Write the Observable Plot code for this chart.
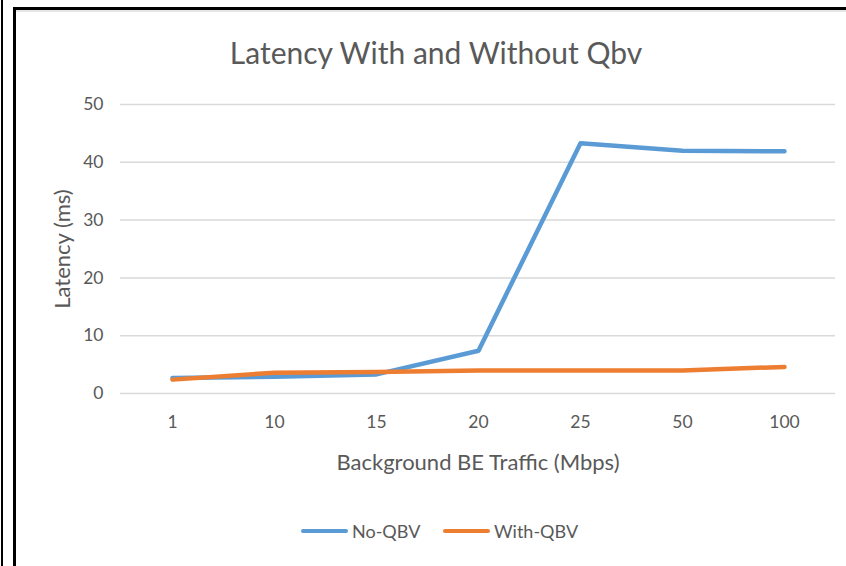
<!DOCTYPE html>
<html>
<head>
<meta charset="utf-8">
<script src="https://cdn.jsdelivr.net/npm/d3@7"></script>
<script src="https://cdn.jsdelivr.net/npm/@observablehq/plot@0.6"></script>
<style>
  html, body { margin: 0; padding: 0; background: #fff; }
  #wrap { position: relative; width: 846px; height: 566px; overflow: hidden; font-family: Lato, "Open Sans", sans-serif; color: #595959; }
  .bl { position: absolute; background: #000; }
  #title { position: absolute; left: 0; width: 872px; top: 34px; text-align: center; font-size: 30px; color: #595959; }
  #chart { position: absolute; left: 0; top: 85px; }
  #legend { position: absolute; top: 519px; left: 0; width: 846px; font-size: 18px; color: #595959; }
  .li { position: absolute; top: 0; display: flex; align-items: center; height: 24px; }
  .sw { width: 47px; height: 4.5px; border-radius: 2px; margin-right: 4px; }
</style>
</head>
<body>
<div id="wrap">
  <div class="bl" style="left:1px;top:0;width:2px;height:566px"></div>
  <div class="bl" style="left:13px;top:7px;width:3px;height:559px"></div>
  <div class="bl" style="left:13px;top:7px;width:833px;height:3px"></div>
  <div style="position:absolute;left:16px;top:10px;width:830px;height:2px;background:#e6e6e6"></div>
  <div id="title">Latency With and Without Qbv</div>
  <div id="chart"></div>
  <div id="legend"></div>
</div>
<script>
const categories = ["1", "10", "15", "20", "25", "50", "100"];
const noQbv = [2.7, 2.9, 3.3, 7.4, 43.3, 42.0, 41.9];
const withQbv = [2.4, 3.6, 3.7, 4.0, 4.0, 4.0, 4.6];
const seriesNames = ["No-QBV", "With-QBV"];
const seriesColors = ["#5B9BD5", "#ED7D31"];
const yTicks = [0, 10, 20, 30, 40, 50];

const data = [];
categories.forEach((c, i) => data.push({cat: c, v: noQbv[i], s: seriesNames[0]}));
categories.forEach((c, i) => data.push({cat: c, v: withQbv[i], s: seriesNames[1]}));

const chart = Plot.plot({
  width: 846,
  height: 400,
  marginLeft: 120,
  marginRight: 11,
  marginTop: 19,
  marginBottom: 92,
  style: {fontFamily: "Lato, 'Open Sans', sans-serif", fontSize: "17.5px", color: "#595959", background: "transparent"},
  x: {type: "point", domain: categories, padding: 0.5},
  y: {domain: [0, 50]},
  color: {domain: seriesNames, range: seriesColors},
  marks: [
    Plot.ruleY(yTicks, {stroke: "#d9d9d9", strokeWidth: 1.5}),
    Plot.axisY({ticks: yTicks, tickSize: 0, tickPadding: 17, label: "Latency (ms)", labelAnchor: "center", labelOffset: 66, labelArrow: "none", fontSize: 17.5}),
    Plot.axisX({tickSize: 0, tickPadding: 22, label: "Background BE Traffic (Mbps)", labelAnchor: "center", labelOffset: 76, labelArrow: "none", fontSize: 17.5}),
    Plot.line(data, {x: "cat", y: "v", z: "s", stroke: "s", strokeWidth: 4.5, strokeLinecap: "round", strokeLinejoin: "round"})
  ]
});
chart.querySelectorAll("text").forEach(t => t.setAttribute("fill", "#595959"));
chart.querySelectorAll('[aria-label="x-axis label"], [aria-label="y-axis label"]').forEach(g => {
  g.setAttribute("font-size", "22px");
  g.querySelectorAll("text").forEach(t => t.setAttribute("font-size", "22px"));
});
document.getElementById("chart").appendChild(chart);

const legend = document.getElementById("legend");
const legendLefts = [301, 443];
seriesNames.forEach((n, i) => {
  const d = document.createElement("div");
  d.className = "li";
  d.style.left = legendLefts[i] + "px";
  d.innerHTML = `<span class="sw" style="background:${seriesColors[i]}"></span><span>${n}</span>`;
  legend.appendChild(d);
});
</script>
</body>
</html>
